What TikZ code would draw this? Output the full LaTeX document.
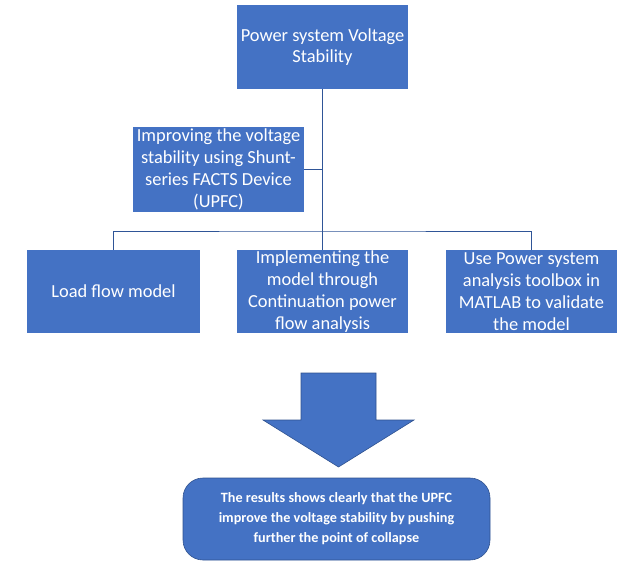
\documentclass[tikz,border=0pt]{standalone}
\usepackage{fontspec}
\setmainfont{Carlito}
\usepackage{tikz}

\definecolor{boxblue}{HTML}{4472C4}
\definecolor{edgeblue}{HTML}{2F528F}
\definecolor{lineblue}{HTML}{2F5597}

\tikzset{
  blockbox/.style={fill=boxblue, text=white, align=center, inner sep=0pt,
    minimum height=84pt, font=\fontsize{18.4}{21.8}\selectfont},
  link/.style={draw=lineblue, line width=0.9pt}
}

\begin{document}
\begin{tikzpicture}[x=1pt,y=-1pt]
        \useasboundingbox (0,0) rectangle (623,578);
        \node[blockbox, minimum width=171pt] (top) at (322.5,47) {Power system Voltage\\Stability};
        \node[blockbox, minimum width=171pt, minimum height=85pt] (upfc) at (218.5,169.5) {Improving the voltage\\stability using Shunt-\\series FACTS Device\\(UPFC)};
        \node[blockbox, minimum width=173pt, minimum height=83pt] (load) at (113.5,291.5) {Load flow model};
        \node[blockbox, minimum width=171pt, minimum height=83pt] (cpf) at (322.5,291.5) {Implementing the\\model through\\Continuation power\\flow analysis};
        \node[blockbox, minimum width=171pt, minimum height=83pt] (valid) at (531.5,291.5) {Use Power system\\analysis toolbox in\\MATLAB to validate\\the model};
        \coordinate (bar) at (322.5,231);
        % tree lines
        \draw[link] (top.south) -- (bar);
        \draw[link] (upfc.east) -- (upfc.east -| bar);
        \draw[link] (load.north) |- (bar) -| (valid.north);
        \draw[link] (bar) -- (cpf.north);
        % big arrow
        \draw[fill=boxblue, draw=edgeblue, line width=0.6pt] (301,373) -- (376,373) -- (376,420) -- (414,420) -- (338.5,467) -- (263,420) -- (301,420) -- cycle;
        \node[fill=boxblue, draw=edgeblue, line width=0.6pt, rounded corners=20pt, minimum width=307pt, minimum height=82pt, align=center, inner sep=0pt, text=white, font=\bfseries\fontsize{14.2}{20}\selectfont] (result) at (336.5,519) {The results shows clearly that the UPFC\\improve the voltage stability by pushing\\further the point of collapse};
    \end{tikzpicture}
\end{document}
